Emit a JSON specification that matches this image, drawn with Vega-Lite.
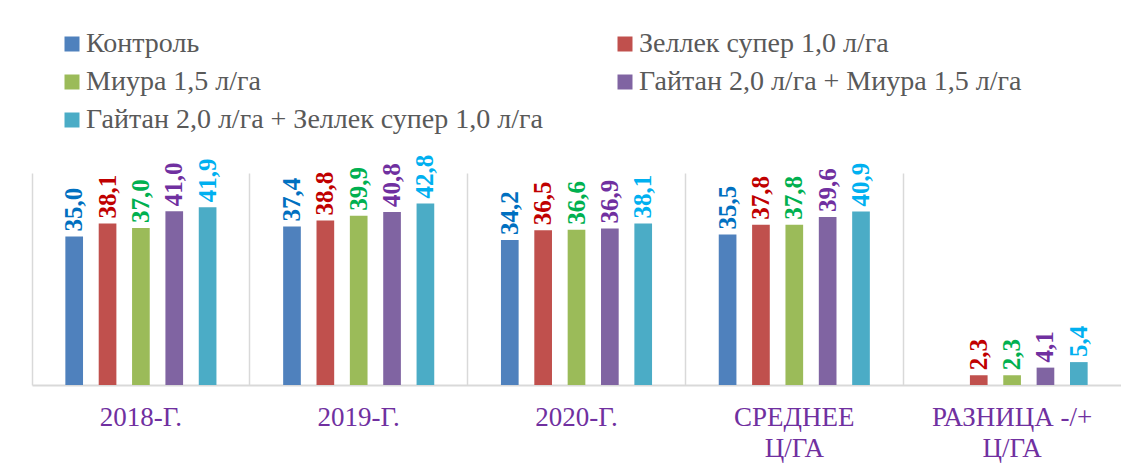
{
  "$schema": "https://vega.github.io/schema/vega-lite/v6.json",
  "autosize": "none",
  "width": 1089,
  "height": 212,
  "padding": {"left": 32, "top": 173, "right": 0, "bottom": 84},
  "background": "white",
  "config": {
    "view": {"stroke": null},
    "locale": {"number": {"decimal": ",", "thousands": " ", "grouping": [3], "currency": ["", ""]}},
    "font": "Liberation Serif"
  },
  "data": {
    "values": [
      {"cat": "2018-Г.", "series": "Контроль", "value": 35.0},
      {"cat": "2018-Г.", "series": "Зеллек супер 1,0 л/га", "value": 38.1},
      {"cat": "2018-Г.", "series": "Миура 1,5 л/га", "value": 37.0},
      {"cat": "2018-Г.", "series": "Гайтан 2,0 л/га + Миура 1,5 л/га", "value": 41.0},
      {"cat": "2018-Г.", "series": "Гайтан 2,0 л/га + Зеллек супер 1,0 л/га", "value": 41.9},
      {"cat": "2019-Г.", "series": "Контроль", "value": 37.4},
      {"cat": "2019-Г.", "series": "Зеллек супер 1,0 л/га", "value": 38.8},
      {"cat": "2019-Г.", "series": "Миура 1,5 л/га", "value": 39.9},
      {"cat": "2019-Г.", "series": "Гайтан 2,0 л/га + Миура 1,5 л/га", "value": 40.8},
      {"cat": "2019-Г.", "series": "Гайтан 2,0 л/га + Зеллек супер 1,0 л/га", "value": 42.8},
      {"cat": "2020-Г.", "series": "Контроль", "value": 34.2},
      {"cat": "2020-Г.", "series": "Зеллек супер 1,0 л/га", "value": 36.5},
      {"cat": "2020-Г.", "series": "Миура 1,5 л/га", "value": 36.6},
      {"cat": "2020-Г.", "series": "Гайтан 2,0 л/га + Миура 1,5 л/га", "value": 36.9},
      {"cat": "2020-Г.", "series": "Гайтан 2,0 л/га + Зеллек супер 1,0 л/га", "value": 38.1},
      {"cat": "СРЕДНЕЕ Ц/ГА", "series": "Контроль", "value": 35.5},
      {"cat": "СРЕДНЕЕ Ц/ГА", "series": "Зеллек супер 1,0 л/га", "value": 37.8},
      {"cat": "СРЕДНЕЕ Ц/ГА", "series": "Миура 1,5 л/га", "value": 37.8},
      {"cat": "СРЕДНЕЕ Ц/ГА", "series": "Гайтан 2,0 л/га + Миура 1,5 л/га", "value": 39.6},
      {"cat": "СРЕДНЕЕ Ц/ГА", "series": "Гайтан 2,0 л/га + Зеллек супер 1,0 л/га", "value": 40.9},
      {"cat": "РАЗНИЦА  -/+ Ц/ГА", "series": "Зеллек супер 1,0 л/га", "value": 2.3},
      {"cat": "РАЗНИЦА  -/+ Ц/ГА", "series": "Миура 1,5 л/га", "value": 2.3},
      {"cat": "РАЗНИЦА  -/+ Ц/ГА", "series": "Гайтан 2,0 л/га + Миура 1,5 л/га", "value": 4.1},
      {"cat": "РАЗНИЦА  -/+ Ц/ГА", "series": "Гайтан 2,0 л/га + Зеллек супер 1,0 л/га", "value": 5.4}
    ]
  },
  "encoding": {
    "x": {
      "field": "cat", "type": "nominal", "sort": null,
      "scale": {"paddingInner": 0, "paddingOuter": 0},
      "axis": {
        "title": null,
        "labelAngle": 0,
        "labelFont": "Liberation Serif",
        "labelFontSize": 27,
        "labelColor": "#7030A0",
        "labelPadding": 19,
        "labelBaseline": "top",
        "labelLineHeight": 31,
        "labelExpr": "indexof(datum.label, 'Ц/ГА') > 0 ? [replace(datum.label, ' Ц/ГА', ''), 'Ц/ГА'] : datum.label",
        "ticks": false,
        "domainColor": "#d9d9d9",
        "domainWidth": 2,
        "grid": true,
        "gridColor": "#d9d9d9",
        "gridWidth": 1.5,
        "bandPosition": 0,
        "labelLimit": 300
      }
    },
    "xOffset": {
      "field": "series", "type": "nominal",
      "sort": ["Контроль", "Зеллек супер 1,0 л/га", "Миура 1,5 л/га", "Гайтан 2,0 л/га + Миура 1,5 л/га", "Гайтан 2,0 л/га + Зеллек супер 1,0 л/га"],
      "scale": {"paddingInner": 0.47, "paddingOuter": 1.14}
    },
    "y": {
      "field": "value", "type": "quantitative",
      "scale": {"domain": [0, 50], "nice": false},
      "axis": null
    }
  },
  "layer": [
    {
      "mark": {"type": "bar"},
      "encoding": {
        "color": {
          "field": "series", "type": "nominal",
          "scale": {
            "domain": ["Контроль", "Зеллек супер 1,0 л/га", "Миура 1,5 л/га", "Гайтан 2,0 л/га + Миура 1,5 л/га", "Гайтан 2,0 л/га + Зеллек супер 1,0 л/га"],
            "range": ["#4F81BD", "#C0504D", "#9BBB59", "#8064A2", "#4BACC6"]
          },
          "legend": {
            "title": null,
            "orient": "none",
            "direction": "horizontal",
            "legendX": 26,
            "legendY": -143,
            "columns": 2,
            "columnPadding": 68,
            "rowPadding": 10,
            "symbolType": "square",
            "symbolSize": 225,
            "symbolStrokeWidth": 0,
            "labelFont": "Liberation Serif",
            "labelFontSize": 28,
            "labelColor": "#595959",
            "labelOffset": 0,
            "labelLimit": 600
          }
        }
      }
    },
    {
      "mark": {"type": "text", "angle": 270, "align": "left", "baseline": "middle", "dx": 5, "font": "Liberation Serif", "fontSize": 25, "fontWeight": "bold"},
      "encoding": {
        "text": {"field": "value", "type": "quantitative", "format": ".1f"},
        "color": {
          "field": "series", "type": "nominal",
          "scale": {
            "domain": ["Контроль", "Зеллек супер 1,0 л/га", "Миура 1,5 л/га", "Гайтан 2,0 л/га + Миура 1,5 л/га", "Гайтан 2,0 л/га + Зеллек супер 1,0 л/га"],
            "range": ["#0070C0", "#C00000", "#00B050", "#7030A0", "#00B0F0"]
          },
          "legend": null
        }
      }
    }
  ],
  "resolve": {"scale": {"color": "independent"}}
}
